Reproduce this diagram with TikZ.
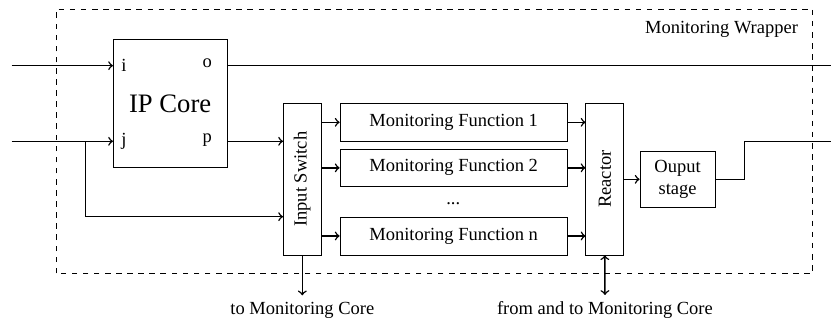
\documentclass[tikz,border=0pt]{standalone}
\usepackage{fontspec}
\setmainfont{Liberation Serif}
\usetikzlibrary{calc,positioning}

\begin{document}
\begin{tikzpicture}[
    block/.style={draw, thin, align=center},
    mfbox/.style={block, minimum width=4.32cm, minimum height=0.72cm},
    tallbox/.style={block, minimum width=0.72cm, minimum height=2.88cm},
    wire/.style={thick},
    port/.style={inner sep=0pt}
]
\useasboundingbox (0,0) rectangle (15.79,6.156);

% Draw the wrapper
\draw[dashed, thin] (1.077,0.963) rectangle (15.44,5.985);
\node (wraplabel) at (13.71,5.6) {Monitoring Wrapper};

% Draw the IP core with its ports
\node[block, minimum width=2.16cm, minimum height=2.44cm] (ip) at (3.233,4.19) {\Large IP Core};
\node[port] (pi) at (2.356,4.908) {i};
\node[port] (po) at (3.94,4.95) {o};
\node[port] (pj) at (2.356,3.471) {j};
\node[port] (pp) at (3.94,3.50) {p};

% Draw the switch, the monitoring functions and the reactor
\node[tallbox] (switch) at (5.744,2.752) {\rotatebox{90}{Input Switch}};
\node[mfbox] (mf1) at (8.62,3.832) {Monitoring Function 1};
\node[mfbox] (mf2) at (8.62,2.967) {Monitoring Function 2};
\node (dots) at (8.613,2.293) {...};
\node[mfbox] (mfn) at (8.62,1.672) {Monitoring Function n};
\node[tallbox] (reactor) at (11.492,2.752) {\rotatebox{90}{Reactor}};
\node[block, minimum width=1.43cm, minimum height=1.05cm] (out) at (12.875,2.749) {Ouput\\stage};

\node (tomc) at (5.744,0.266) {to Monitoring Core};
\node (fromtomc) at (11.495,0.266) {from and to Monitoring Core};

% Free ends of the wires
\coordinate (inI) at (0.222,4.908);
\coordinate (inJ) at (0.222,3.471);
\coordinate (split) at (1.628,3.471);
\coordinate (bend) at (1.628,2.039);
\coordinate (outO) at (15.79,4.908);
\coordinate (knee) at (14.142,3.471);
\coordinate (outP) at (15.79,3.471);

% Wires
\draw[wire, ->] (inI) -- (inI -| ip.west);
\draw[wire, ->] (inJ) -- (inJ -| ip.west);
\draw[wire, ->] (split) -- (bend) -- (bend -| switch.west);
\draw[wire] (inI -| ip.east) -- (outO);
\draw[wire, ->] (inJ -| ip.east) -- (inJ -| switch.west);

\draw[wire, ->] (mf1.west -| switch.east) -- (mf1.west);
\draw[wire, ->] (mf2.west -| switch.east) -- (mf2.west);
\draw[wire, ->] (mfn.west -| switch.east) -- (mfn.west);

\draw[wire, ->] (mf1.east) -- (mf1.east -| reactor.west);
\draw[wire, ->] (mf2.east) -- (mf2.east -| reactor.west);
\draw[wire, ->] (mfn.east) -- (mfn.east -| reactor.west);

\draw[wire, ->] (out.west -| reactor.east) -- (out.west);
\draw[wire] (out.east) -| (knee) -- (outP);

\draw[wire, ->] (switch.south) -- (tomc.north);
\draw[wire, <->] (reactor.south) -- (fromtomc.north);
\end{tikzpicture}
\end{document}
